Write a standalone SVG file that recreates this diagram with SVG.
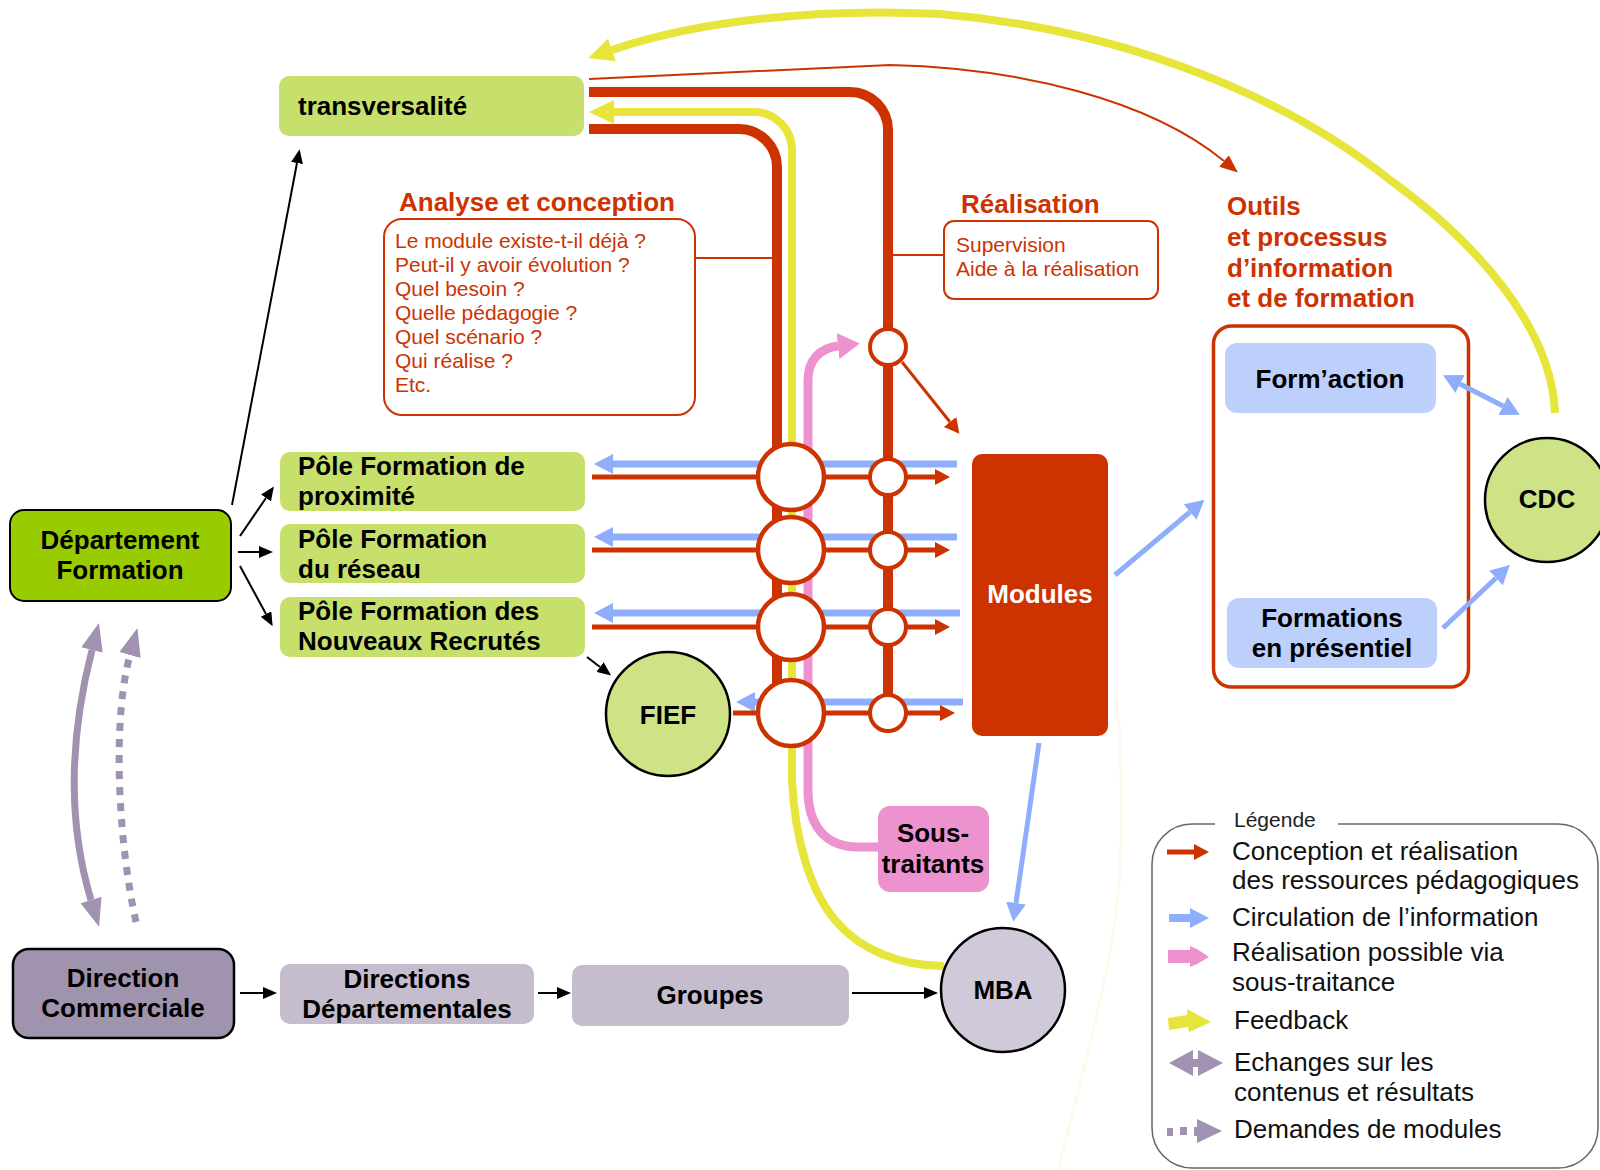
<svg xmlns="http://www.w3.org/2000/svg" width="1600" height="1170" viewBox="0 0 1600 1170">
<defs>
<style>
text{font-family:"Liberation Sans",Arial,Helvetica,sans-serif}
.lb{font-weight:bold;font-size:26px;fill:#000}
.lbc{font-weight:bold;font-size:26px;fill:#000;text-anchor:middle}
.rt{font-weight:bold;font-size:26px;fill:#cc3300}
.rs{font-size:21px;fill:#cc3300}
.lg{font-size:26px;fill:#111}
.lgt{font-size:21px;fill:#222}
.red{stroke:#cc3300;fill:none}
.blue{stroke:#8eaefb;fill:none}
.yel{stroke:#e7e43a;fill:none}
.pink{stroke:#ec93cf;fill:none}
.blk{stroke:#000;stroke-width:2;fill:none}
.pur{stroke:#a092b0;fill:none;stroke-width:7}
.jb{fill:#fff;stroke:#cc3300;stroke-width:4.5}
.js{fill:#fff;stroke:#cc3300;stroke-width:4}
.pale{fill:#c6e06b}
.circg{fill:#cde385;stroke:#000;stroke-width:2.5}
.lblue{fill:#bdd0fb}
.lav{fill:#c5bccd}
</style>
<marker id="hRed" viewBox="0 0 15 16" refX="0" refY="8" markerWidth="15" markerHeight="16" markerUnits="userSpaceOnUse" orient="auto"><path d="M0,0 L15,8 L0,16 z" fill="#cc3300"/></marker>
<marker id="hRedS" viewBox="0 0 18 15" refX="0" refY="7.5" markerWidth="18" markerHeight="15" markerUnits="userSpaceOnUse" orient="auto"><path d="M0,0 L18,7.5 L0,15 z" fill="#cc3300"/></marker>
<marker id="hBlue" viewBox="0 0 19 20" refX="0" refY="10" markerWidth="19" markerHeight="20" markerUnits="userSpaceOnUse" orient="auto-start-reverse"><path d="M0,0 L19,10 L0,20 z" fill="#8eaefb"/></marker>
<marker id="hBlack" viewBox="0 0 14 12" refX="0" refY="6" markerWidth="14" markerHeight="12" markerUnits="userSpaceOnUse" orient="auto"><path d="M0,0 L14,6 L0,12 z" fill="#000"/></marker>
<marker id="hYellow" viewBox="0 0 25 24" refX="0" refY="12" markerWidth="25" markerHeight="24" markerUnits="userSpaceOnUse" orient="auto"><path d="M0,0 L25,12 L0,24 z" fill="#e7e43a"/></marker>
<marker id="hPink" viewBox="0 0 22 26" refX="0" refY="13" markerWidth="22" markerHeight="26" markerUnits="userSpaceOnUse" orient="auto"><path d="M0,0 L22,13 L0,26 z" fill="#ec93cf"/></marker>
<marker id="hPur" viewBox="0 0 28 22" refX="0" refY="11" markerWidth="28" markerHeight="22" markerUnits="userSpaceOnUse" orient="auto-start-reverse"><path d="M0,0 L28,11 L0,22 z" fill="#a092b0"/></marker>
</defs>
<rect width="1600" height="1170" fill="#fff"/>

<!-- containers / annotation boxes -->
<g id="outils">
<rect x="1213.5" y="326" width="255" height="361" rx="18" fill="#fff" stroke="#cc3300" stroke-width="3.5"/>
<text class="rt" x="1227" y="215">Outils</text>
<text class="rt" x="1227" y="246">et processus</text>
<text class="rt" x="1227" y="277">d’information</text>
<text class="rt" x="1227" y="307">et de formation</text>
</g>
<g id="analyse-conception">
<text class="rt" x="399" y="211">Analyse et conception</text>
<rect x="384" y="219" width="311" height="196" rx="18" fill="#fff" stroke="#cc3300" stroke-width="2"/>
<text class="rs" x="395" y="248">Le module existe-t-il déjà ?</text>
<text class="rs" x="395" y="272">Peut-il y avoir évolution ?</text>
<text class="rs" x="395" y="296">Quel besoin ?</text>
<text class="rs" x="395" y="320">Quelle pédagogie ?</text>
<text class="rs" x="395" y="344">Quel scénario ?</text>
<text class="rs" x="395" y="368">Qui réalise ?</text>
<text class="rs" x="395" y="392">Etc.</text>
</g>
<g id="realisation">
<text class="rt" x="961" y="213">Réalisation</text>
<rect x="944" y="221" width="214" height="78" rx="10" fill="#fff" stroke="#cc3300" stroke-width="2"/>
<text class="rs" x="956" y="252">Supervision</text>
<text class="rs" x="956" y="276">Aide à la réalisation</text>
</g>

<g id="connectors">
<path d="M1117,700 C1125,800 1125,900 1100,1000 C1085,1070 1070,1120 1058,1170" stroke="#f6f7da" stroke-width="3" fill="none" stroke-opacity="0.5"/>
<path class="yel" stroke-width="8" d="M1555,413 C1552,330 1480,245 1390,180 C1290,100 1130,30 940,14 C820,8 700,20 612,50" marker-end="url(#hYellow)"/>
<path class="red" stroke-width="2" d="M589,79 L890,65 C1020,68 1150,100 1224,161" marker-end="url(#hRedS)"/>
<path class="yel" stroke-width="8" d="M944,966 C900,966 860,950 835,920 C810,890 795,840 792,780 V150 A38,38 0 0 0 754,112 H614" marker-end="url(#hYellow)"/>
<path class="pink" stroke-width="9" d="M878,847 H858 C825,847 808,825 808,790 V380 C808,360 820,348 838,346" marker-end="url(#hPink)"/>
<path class="red" stroke-width="10" d="M589,92 H850 A38,38 0 0 1 888,130 V713"/>
<path class="red" stroke-width="10" d="M589,129 H739 A38,38 0 0 1 777,167 V713"/>
<path class="red" stroke-width="2" d="M695,258 H772"/>
<path class="red" stroke-width="2" d="M893,255 H944"/>
<path class="blue" stroke-width="7" d="M957,464 H613" marker-end="url(#hBlue)"/>
<path class="blue" stroke-width="7" d="M957,537 H613" marker-end="url(#hBlue)"/>
<path class="blue" stroke-width="7" d="M960,613 H613" marker-end="url(#hBlue)"/>
<path class="blue" stroke-width="7" d="M963,702 H755" marker-end="url(#hBlue)"/>
<path class="red" stroke-width="5" d="M592,477 H935" marker-end="url(#hRed)"/>
<path class="red" stroke-width="5" d="M592,550 H935" marker-end="url(#hRed)"/>
<path class="red" stroke-width="5" d="M592,627 H935" marker-end="url(#hRed)"/>
<path class="red" stroke-width="5" d="M733,713 H940" marker-end="url(#hRed)"/>
<path class="red" stroke-width="3" d="M902,362 L950,422" marker-end="url(#hRed)"/>
<path class="blue" stroke-width="5" d="M1115,575 L1190,512" marker-end="url(#hBlue)"/>
<path class="blue" stroke-width="5" d="M1443,628 L1496,578" marker-end="url(#hBlue)"/>
<path class="blue" stroke-width="5" d="M1460,384 L1503,406" marker-start="url(#hBlue)" marker-end="url(#hBlue)"/>
<path class="blue" stroke-width="5" d="M1039,743 L1016,903" marker-end="url(#hBlue)"/>
<path class="blk" d="M232,505 L297,163" marker-end="url(#hBlack)"/>
<path class="blk" d="M240,536 L266,498" marker-end="url(#hBlack)"/>
<path class="blk" d="M238,552 L259,552" marker-end="url(#hBlack)"/>
<path class="blk" d="M240,566 L266,614" marker-end="url(#hBlack)"/>
<path class="blk" d="M587,657 L600,667" marker-end="url(#hBlack)"/>
<path class="blk" d="M240,993 L263,993" marker-end="url(#hBlack)"/>
<path class="blk" d="M538,993 L557,993" marker-end="url(#hBlack)"/>
<path class="blk" d="M852,993 L924,993" marker-end="url(#hBlack)"/>
<path class="pur" d="M92,650 C74,720 64,810 91,900" marker-start="url(#hPur)" marker-end="url(#hPur)"/>
<path class="pur" stroke-dasharray="8 8" d="M136,922 C118,840 112,720 130,655" marker-end="url(#hPur)"/>
</g>

<g id="junctions">
<circle class="jb" cx="791" cy="477" r="33"/>
<circle class="jb" cx="791" cy="550" r="33"/>
<circle class="jb" cx="791" cy="627" r="33"/>
<circle class="jb" cx="791" cy="713" r="33"/>
<circle class="js" cx="888" cy="347" r="18"/>
<circle class="js" cx="888" cy="477" r="18"/>
<circle class="js" cx="888" cy="550" r="18"/>
<circle class="js" cx="888" cy="627" r="18"/>
<circle class="js" cx="888" cy="713" r="18"/>
</g>

<g id="transversalite">
<rect class="pale" x="279" y="76" width="305" height="60" rx="10"/>
<text class="lb" x="298" y="115">transversalité</text>
</g>
<g id="departement-formation">
<rect x="10" y="510" width="221" height="91" rx="14" fill="#99cc00" stroke="#000" stroke-width="2"/>
<text class="lbc" x="120" y="549">Département</text>
<text class="lbc" x="120" y="579">Formation</text>
</g>
<g id="pole-proximite">
<rect class="pale" x="280" y="452" width="305" height="59" rx="10"/>
<text class="lb" x="298" y="475">Pôle Formation de</text>
<text class="lb" x="298" y="505">proximité</text>
</g>
<g id="pole-reseau">
<rect class="pale" x="280" y="524" width="305" height="59" rx="10"/>
<text class="lb" x="298" y="548">Pôle Formation</text>
<text class="lb" x="298" y="578">du réseau</text>
</g>
<g id="pole-nouveaux-recrutes">
<rect class="pale" x="280" y="597" width="305" height="60" rx="10"/>
<text class="lb" x="298" y="620">Pôle Formation des</text>
<text class="lb" x="298" y="650">Nouveaux Recrutés</text>
</g>
<g id="fief">
<circle class="circg" cx="668" cy="714" r="62"/>
<text class="lbc" x="668" y="724">FIEF</text>
</g>
<g id="modules">
<rect x="972" y="454" width="136" height="282" rx="10" fill="#cc3300"/>
<text class="lbc" x="1040" y="603" style="fill:#fff">Modules</text>
</g>
<g id="sous-traitants">
<rect x="878" y="806" width="111" height="86" rx="12" fill="#ec93cf"/>
<text class="lbc" x="933" y="842">Sous-</text>
<text class="lbc" x="933" y="873">traitants</text>
</g>
<g id="form-action">
<rect class="lblue" x="1225" y="343" width="211" height="70" rx="12"/>
<text class="lbc" x="1330" y="388">Form’action</text>
</g>
<g id="formations-presentiel">
<rect class="lblue" x="1227" y="598" width="210" height="70" rx="12"/>
<text class="lbc" x="1332" y="627">Formations</text>
<text class="lbc" x="1332" y="657">en présentiel</text>
</g>
<g id="cdc">
<circle class="circg" cx="1547" cy="500" r="62"/>
<text class="lbc" x="1547" y="508">CDC</text>
</g>
<g id="mba">
<circle cx="1003" cy="990" r="62" fill="#d0c9d9" stroke="#000" stroke-width="2.5"/>
<text class="lbc" x="1003" y="999">MBA</text>
</g>
<g id="direction-commerciale">
<rect x="13" y="949" width="221" height="89" rx="16" fill="#a093ae" stroke="#000" stroke-width="2.5"/>
<text class="lbc" x="123" y="987">Direction</text>
<text class="lbc" x="123" y="1017">Commerciale</text>
</g>
<g id="directions-departementales">
<rect class="lav" x="280" y="964" width="254" height="60" rx="10"/>
<text class="lbc" x="407" y="988">Directions</text>
<text class="lbc" x="407" y="1018">Départementales</text>
</g>
<g id="groupes">
<rect class="lav" x="572" y="965" width="277" height="61" rx="10"/>
<text class="lbc" x="710" y="1004">Groupes</text>
</g>

<g id="legend">
<rect x="1152" y="824" width="446" height="344" rx="40" fill="#fff" stroke="#666" stroke-width="1.5"/>
<rect x="1215" y="818" width="123" height="12" fill="#fff"/>
<text class="lgt" x="1234" y="827">Légende</text>
<path class="red" stroke-width="5" d="M1167,852 H1194" marker-end="url(#hRed)"/>
<text class="lg" x="1232" y="860">Conception et réalisation</text>
<text class="lg" x="1232" y="889">des ressources pédagogiques</text>
<path class="blue" stroke-width="8" d="M1169,918 H1190" marker-end="url(#hBlue)"/>
<text class="lg" x="1232" y="926">Circulation de l’information</text>
<polygon points="1168,950 1190,950 1190,946 1197,949 1209,957 1197,964 1190,967 1190,963 1168,963" fill="#ec93cf"/>
<text class="lg" x="1232" y="961">Réalisation possible via</text>
<text class="lg" x="1232" y="991">sous-traitance</text>
<polygon points="1168,1018 1187,1015 1187,1009 1211,1022 1189,1032 1188,1027 1169,1030" fill="#e7e43a"/>
<text class="lg" x="1234" y="1029">Feedback</text>
<polygon points="1169,1063 1193,1050 1193,1059 1198,1059 1198,1050 1223,1063 1198,1076 1198,1067 1193,1067 1193,1076" fill="#a092b0"/>
<text class="lg" x="1234" y="1071">Echanges sur les</text>
<text class="lg" x="1234" y="1101">contenus et résultats</text>
<rect x="1167" y="1128" width="6" height="8" fill="#a092b0"/>
<rect x="1180" y="1127" width="7" height="8" fill="#a092b0"/>
<polygon points="1194,1127 1197,1127 1197,1119 1222,1131 1197,1143 1197,1136 1194,1136" fill="#a092b0"/>
<text class="lg" x="1234" y="1138">Demandes de modules</text>
</g>
</svg>
